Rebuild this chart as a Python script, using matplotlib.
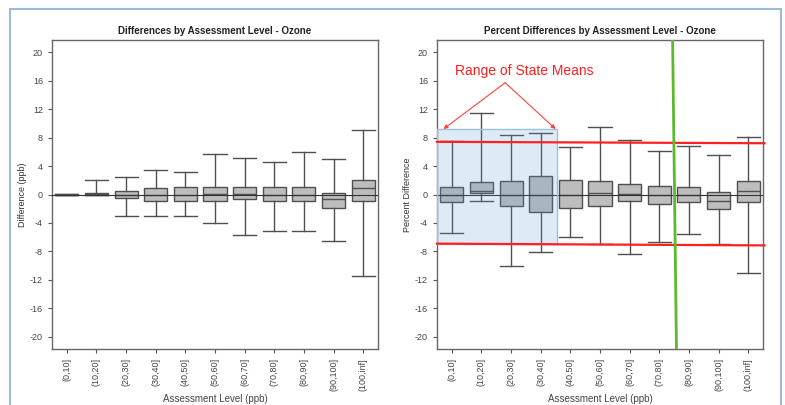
import numpy as np
import matplotlib
matplotlib.use('Agg')
import matplotlib.pyplot as plt
from matplotlib.patches import Rectangle

plt.rcParams['font.family'] = ['Liberation Sans', 'DejaVu Sans']
plt.rcParams['axes.unicode_minus'] = False

levels = ['(0,10]', '(10,20]', '(20,30]', '(30,40]', '(40,50]', '(50,60]',
          '(60,70]', '(70,80]', '(80,90]', '(90,100]', '(100,inf]']

# differences (ppb)
diff_lo = [-0.05, -0.1, -3.05, -3.05, -2.95, -4.05, -5.65, -5.1, -5.1, -6.55, -11.5]
diff_q1 = [-0.02, -0.05, -0.5, -0.9, -0.9, -0.9, -0.65, -0.9, -0.9, -1.95, -0.95]
diff_med = [0.0, 0.05, 0.0, 0.0, 0.0, 0.05, 0.1, 0.0, 0.0, -0.7, 0.85]
diff_q3 = [0.02, 0.15, 0.5, 0.95, 1.0, 1.0, 1.0, 1.0, 1.0, 0.15, 2.0]
diff_hi = [0.05, 2.1, 2.5, 3.4, 3.1, 5.65, 5.1, 4.5, 6.0, 5.0, 9.0]

# percent differences
pct_lo = [-5.4, -0.85, -10.1, -8.1, -5.95, -6.9, -8.3, -6.7, -5.6, -6.9, -11.0]
pct_q1 = [-1.1, 0.15, -1.6, -2.5, -1.95, -1.6, -0.9, -1.3, -1.1, -2.0, -1.0]
pct_med = [0.0, 0.45, 0.0, 0.0, 0.0, 0.15, 0.1, 0.0, 0.0, -0.85, 0.55]
pct_q3 = [1.0, 1.75, 1.9, 2.55, 2.0, 1.9, 1.45, 1.25, 1.1, 0.3, 1.95]
pct_hi = [7.5, 11.4, 8.4, 8.6, 6.7, 9.5, 7.6, 6.1, 6.8, 5.55, 8.1]

state_mean_hi = [7.4, 7.2]
state_mean_lo = [-6.9, -7.15]
state_shade = (0.5, 4.55, -6.9, 9.2)  # x0, x1, y0, y1
green_x = [8.45, 8.58]


def make_stats(lo, q1, med, q3, hi):
    return [dict(whislo=a, q1=b, med=c, q3=d, whishi=e, fliers=[])
            for a, b, c, d, e in zip(lo, q1, med, q3, hi)]


def draw_panel(ax, stats, title, ylabel):
    pos = np.arange(1, len(levels) + 1)
    ax.bxp(stats, positions=pos, widths=0.78, capwidths=0.78, patch_artist=True,
           showfliers=False,
           boxprops=dict(facecolor='#bdbdbd', edgecolor='#505050', linewidth=1.0),
           medianprops=dict(color='#505050', linewidth=1.0),
           whiskerprops=dict(color='#505050', linewidth=1.0),
           capprops=dict(color='#505050', linewidth=1.0))
    ax.axhline(0, color='#333333', lw=0.8, zorder=5)
    ax.set_xlim(0.5, len(levels) + 0.5)
    ax.set_ylim(-21.7, 21.7)
    ax.set_yticks(np.arange(-20, 21, 4))
    ax.set_xticks(pos)
    ax.set_xticklabels(levels, rotation=90, fontsize=6.5, color='#444444')
    ax.tick_params(axis='y', labelsize=6.5, labelcolor='#444444', length=3, color='#555555')
    ax.tick_params(axis='x', length=3, color='#555555')
    ax.set_title(title, fontsize=7, fontweight='bold', color='#222222', pad=4)
    ax.set_ylabel(ylabel, fontsize=6.5, color='#333333', labelpad=2)
    ax.set_xlabel('Assessment Level (ppb)', fontsize=7, color='#444444', labelpad=2)
    for s in ax.spines.values():
        s.set_color('#666666')
        s.set_linewidth(1.0)


fig = plt.figure(figsize=(7.85, 4.05), dpi=100)

# outer light-blue frame
fig.patches.append(Rectangle((10 / 785, -0.05), 771 / 785, 1.05 - 9 / 405,
                             transform=fig.transFigure, fill=False,
                             edgecolor='#9dbbd9', lw=1.5))

ax1 = fig.add_axes([52 / 785, 1 - 349 / 405, 326 / 785, 309 / 405])
ax2 = fig.add_axes([437 / 785, 1 - 349 / 405, 326 / 785, 309 / 405])

draw_panel(ax1, make_stats(diff_lo, diff_q1, diff_med, diff_q3, diff_hi),
           'Differences by Assessment Level - Ozone', 'Difference (ppb)')
draw_panel(ax2, make_stats(pct_lo, pct_q1, pct_med, pct_q3, pct_hi),
           'Percent Differences by Assessment Level - Ozone', 'Percent Difference')

# shaded range of state means
x0, x1, y0, y1 = state_shade
ax2.add_patch(Rectangle((x0, y0), x1 - x0, y1 - y0, facecolor='#5b9bd5',
                        alpha=0.2, edgecolor='none', zorder=6))
ax2.add_patch(Rectangle((x0, y0), x1 - x0, y1 - y0, fill=False,
                        edgecolor='#9dbfe0', lw=1.0, zorder=6))

ax2.plot([0.5, 11.55], state_mean_hi, color='#ff2020', lw=1.6, zorder=7, clip_on=False)
ax2.plot([0.5, 11.55], state_mean_lo, color='#ff2020', lw=1.6, zorder=7, clip_on=False)
ax2.plot(green_x, [21.7, -21.7], color='#5cb82e', lw=2.0, zorder=8)

ax2.text(3.45, 17.3, 'Range of State Means', color='#ff2020', fontsize=10,
         ha='center', va='center', zorder=9)
for tip in [(0.72, 9.2), (4.5, 9.2)]:
    ax2.annotate('', xy=tip, xytext=(2.8, 15.7),
                 arrowprops=dict(arrowstyle='-|>', color='#ff4040', lw=0.8,
                                 mutation_scale=6, shrinkA=0, shrinkB=0),
                 zorder=9)

fig.savefig('out.png', dpi=100)
